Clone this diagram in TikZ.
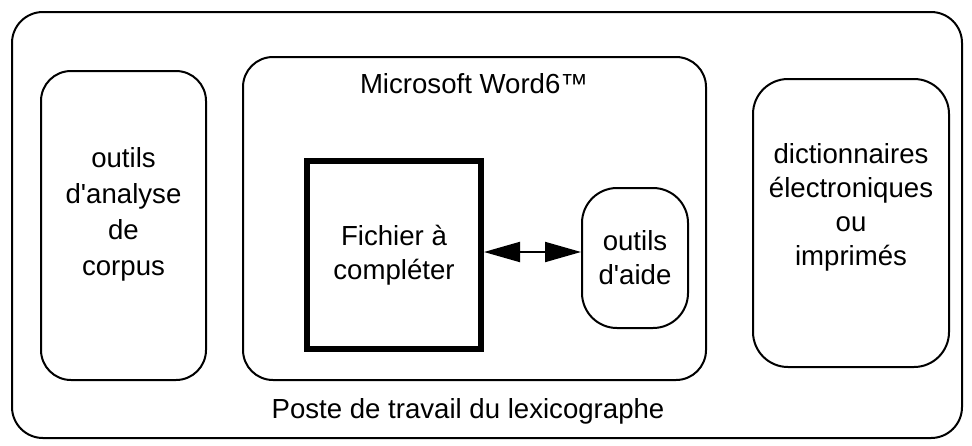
\documentclass[tikz,border=0pt]{standalone}
\usepackage{fontspec}
\setmainfont{Liberation Sans}[Ligatures=TeXOff]
\usetikzlibrary{positioning}
\usetikzlibrary{arrows.meta}

\begin{document}
\begin{tikzpicture}[
		x=0.5pt, y=-0.5pt,
		font=\fontsize{13.8pt}{17pt}\selectfont,
		roundbox/.style={
			shape=rectangle,
			draw,
			line width=1pt,
			rounded corners=15pt,
			inner sep=0pt
		},
		boxtext/.style={
			align=center,
			inner sep=0pt
		}
		]
		
		\useasboundingbox (0,0) rectangle (972,445);
		
		\node[
		roundbox,
		minimum width=475pt,
		minimum height=213pt,
		rounded corners=15.5pt
		] (poste) at (487,225) {};
		
		\node[
		roundbox,
		minimum width=82.5pt,
		minimum height=154.5pt
		] (corpus) at (123.5,225.5) {};
		
		\node[
		roundbox,
		minimum width=231.5pt,
		minimum height=161.5pt
		] (word) at (474.5,218.5) {};
		
		\node[
		shape=rectangle,
		draw,
		line width=3pt,
		minimum width=87pt,
		minimum height=94pt,
		align=center
		] (fichier) at (394,255) {Fichier à\\compléter};
		
		\node[
		roundbox,
		minimum width=53pt,
		minimum height=70pt,
		rounded corners=17.5pt,
		align=center
		] (aide) at (635,258) {outils\\d'aide};
		
		\node[
		roundbox,
		minimum width=98pt,
		minimum height=144pt,
		rounded corners=17.5pt
		] (dico) at (851,223) {};
		
		%%%%%%%%%%
		
		\node[boxtext, font=\fontsize{13.8pt}{18pt}\selectfont] (corpustext) at (123.5,214) {outils\\d'analyse\\de\\corpus};
		\node[boxtext] (dicotext) at (851,207) {dictionnaires\\électroniques\\ou\\imprimés};
		\node[boxtext] (wordtext) at (474,84) {Microsoft Word6™};
		\node[boxtext] (postetext) at (468,411) {Poste de travail du lexicographe};
		
		\draw[{Triangle[length=18pt,width=10pt]}-{Triangle[length=18pt,width=10pt]}, line width=1pt] ([yshift=1.5pt]fichier.east) -- ([yshift=1.5pt]fichier.east -| aide.west);
		
	\end{tikzpicture}
\end{document}
